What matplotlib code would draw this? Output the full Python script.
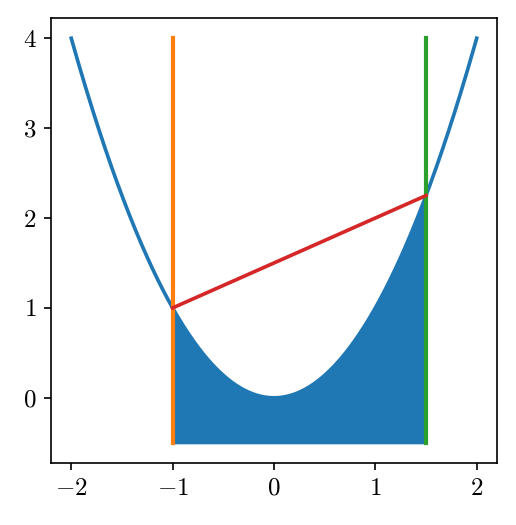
import numpy as np
import matplotlib
matplotlib.use("Agg")
import matplotlib.pyplot as plt

plt.rcParams['font.family'] = 'serif'
plt.rcParams['font.serif'] = ['cmr10']
plt.rcParams['mathtext.fontset'] = 'cm'
plt.rcParams['axes.formatter.use_mathtext'] = True
plt.rcParams['font.size'] = 12

# function y = x^2 sampled over [-2, 2]
x = np.linspace(-2, 2, 400)
y = x ** 2

a, b = -1.0, 1.5          # interval endpoints
y_base = -0.5             # bottom of vertical lines / fill
y_top = 4.0               # top of vertical lines
xticks = [-2, -1, 0, 1, 2]
yticks = [0, 1, 2, 3, 4]

fig = plt.figure(figsize=(5.16 / 1.5, 5.25 / 1.5), dpi=150)
ax = fig.add_axes([0.0988, 0.1181, 0.8643, 0.8476])

ax.plot(x, y, color='C0', lw=1.75)
xs = x[(x >= a) & (x <= b)]
ax.fill_between(xs, xs ** 2, y_base, color='C0')
ax.plot([a, a], [y_base, y_top], color='C1', lw=2)
ax.plot([b, b], [y_base, y_top], color='C2', lw=2)
ax.plot([a, b], [a ** 2, b ** 2], color='C3', lw=1.75)

ax.set_xticks(xticks)
ax.set_yticks(yticks)
fig.savefig("out.png", dpi=150)
